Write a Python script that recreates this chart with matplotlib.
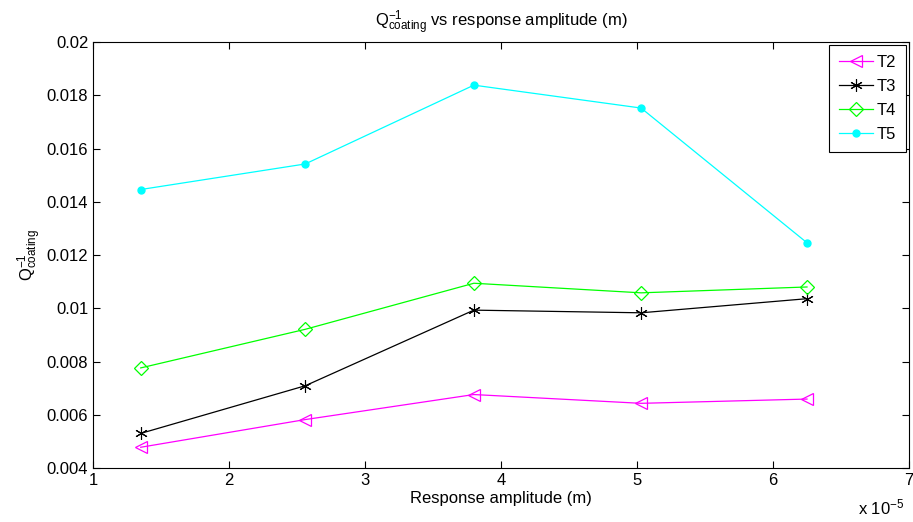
import matplotlib
matplotlib.use("Agg")
import matplotlib.pyplot as plt

plt.rcParams['font.family'] = ['Liberation Sans', 'DejaVu Sans']
plt.rcParams['mathtext.fontset'] = 'custom'
plt.rcParams['mathtext.rm'] = 'Liberation Sans'
plt.rcParams['mathtext.it'] = 'Liberation Sans'

amplitude = [1.35, 2.56, 3.80, 5.03, 6.25]  # x 1e-5 m
T2 = [0.00478, 0.00582, 0.00676, 0.00643, 0.00659]
T3 = [0.00530, 0.00709, 0.00993, 0.00983, 0.01036]
T4 = [0.00776, 0.00921, 0.01094, 0.01058, 0.01080]
T5 = [0.01446, 0.01542, 0.01838, 0.01752, 0.01246]
labels = ['T2', 'T3', 'T4', 'T5']

fig = plt.figure(figsize=(9.13, 5.22), dpi=100)
ax = fig.add_axes([0.102, 0.1034, 0.8936, 0.8161])

ax.plot(amplitude, T2, color='#ff00ff', marker='<', markersize=9, markerfacecolor='none',
        markeredgecolor='#ff00ff', markeredgewidth=0.9, lw=0.9, label=labels[0])
ax.plot(amplitude, T3, color='black', marker=(6, 2, 0), markersize=9, markeredgewidth=0.8,
        lw=0.9, label=labels[1])
ax.plot(amplitude, T4, color='#00ff00', marker='D', markersize=7, markerfacecolor='none',
        markeredgecolor='#00ff00', markeredgewidth=0.9, lw=0.9, label=labels[2])
ax.plot(amplitude, T5, color='#00ffff', marker='o', markersize=5, markerfacecolor='#00ffff',
        lw=0.9, label=labels[3])

ax.set_xlim(1, 7)
ax.set_ylim(0.004, 0.02)
ax.set_xticks([1, 2, 3, 4, 5, 6, 7])
ax.set_yticks([0.004, 0.006, 0.008, 0.01, 0.012, 0.014, 0.016, 0.018, 0.02])
ax.set_yticklabels(['0.004', '0.006', '0.008', '0.01', '0.012', '0.014', '0.016', '0.018', '0.02'])
ax.tick_params(direction='in', top=True, right=True, labelsize=12, length=5)
for s in ax.spines.values():
    s.set_linewidth(0.8)

ax.set_xlabel('Response amplitude (m)', fontsize=12, labelpad=2)
ax.set_ylabel(r'$\mathregular{Q^{-1}_{coating}}$', fontsize=12, labelpad=2)
ax.set_title(r'$\mathregular{Q^{-1}_{coating}}$ vs response amplitude (m)', fontsize=12, pad=11)

fig.text(0.991, 0.008, r'x 10$\mathregular{^{-5}}$', fontsize=12, ha='right', va='bottom')

leg = ax.legend(loc='upper right', fontsize=12, fancybox=False, edgecolor='black',
                framealpha=1, borderaxespad=0.15, handlelength=2.0, handletextpad=0.25,
                labelspacing=0.55, borderpad=0.6)
leg.get_frame().set_linewidth(0.8)

fig.savefig('out.png', dpi=100)
